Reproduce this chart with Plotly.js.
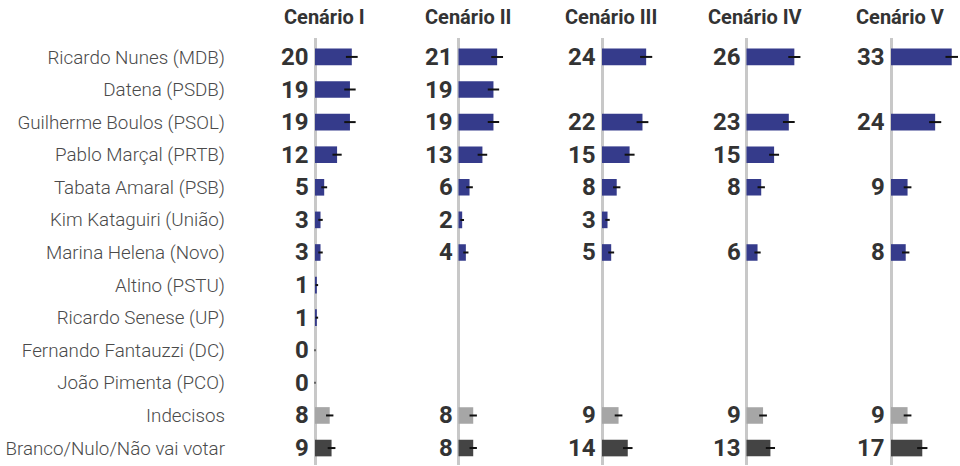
<!DOCTYPE html>
<html>
<head>
<meta charset="utf-8">
<script src="https://cdn.plot.ly/plotly-3.0.1.min.js"></script>
<style>
  html, body { margin: 0; padding: 0; background: #fff; }
  #chart { width: 960px; height: 466px; }
</style>
</head>
<body>
<div id="chart"></div>
<script>
(function () {
    'use strict';

    var categories = [
        'Ricardo Nunes (MDB)', 'Datena (PSDB)', 'Guilherme Boulos (PSOL)', 'Pablo Marçal (PRTB)',
        'Tabata Amaral (PSB)', 'Kim Kataguiri (União)', 'Marina Helena (Novo)', 'Altino (PSTU)',
        'Ricardo Senese (UP)', 'Fernando Fantauzzi (DC)', 'João Pimenta (PCO)', 'Indecisos',
        'Branco/Nulo/Não vai votar'
    ];

    var scenarios = ['Cenário I', 'Cenário II', 'Cenário III', 'Cenário IV', 'Cenário V'];

    var cenario1 = [20, 19, 19, 12, 5, 3, 3, 1, 1, 0, 0, 8, 9];
    var cenario2 = [21, 19, 19, 13, 6, 2, 4, null, null, null, null, 8, 8];
    var cenario3 = [24, null, 22, 15, 8, 3, 5, null, null, null, null, 9, 14];
    var cenario4 = [26, null, 23, 15, 8, null, 6, null, null, null, null, 9, 13];
    var cenario5 = [33, null, 24, null, 9, null, 8, null, null, null, null, 9, 17];

    // margem de erro (pontos percentuais)
    var erro1 = [3.2, 3.1, 3.1, 2.5, 1.6, 1.2, 1.2, 0.7, 0.7, 0.3, 0.3, 2.0, 2.1];
    var erro2 = [3.2, 3.1, 3.1, 2.6, 1.8, 1.0, 1.4, null, null, null, null, 2.0, 2.0];
    var erro3 = [3.3, null, 3.2, 2.7, 2.0, 1.2, 1.6, null, null, null, null, 2.1, 2.6];
    var erro4 = [3.3, null, 3.2, 2.7, 2.0, null, 1.7, null, null, null, null, 2.1, 2.5];
    var erro5 = [3.4, null, 3.3, null, 2.1, null, 2.0, null, null, null, null, 2.1, 2.8];

    var barColors = [
        '#353b8b', '#353b8b', '#353b8b', '#353b8b', '#353b8b', '#353b8b', '#353b8b',
        '#353b8b', '#353b8b', '#353b8b', '#353b8b', '#a6a6a6', '#444444'
    ];

    var values = [cenario1, cenario2, cenario3, cenario4, cenario5];
    var errors = [erro1, erro2, erro3, erro4, erro5];

    var W = 960;
    var zeros = [315, 458.5, 602, 746.5, 891];
    var pxPerUnit = 1.84;

    var data = [];
    var layout = {
        width: 960,
        height: 466,
        margin: { l: 0, r: 0, t: 38, b: 1, pad: 0 },
        paper_bgcolor: '#ffffff',
        plot_bgcolor: 'rgba(0,0,0,0)',
        showlegend: false,
        bargap: 0.49,
        font: { family: 'Roboto, "Open Sans", sans-serif', color: '#333333' },
        yaxis: {
            type: 'category',
            categoryorder: 'array',
            categoryarray: categories,
            range: [12.52, -0.58],
            showgrid: false,
            zeroline: false,
            showline: false,
            ticks: '',
            fixedrange: true,
            tickfont: { family: 'Roboto', size: 18.8, color: '#4a4a4a', weight: 300 }
        },
        annotations: []
    };

    scenarios.forEach(function (name, i) {
        var xa = i === 0 ? 'x' : 'x' + (i + 1);
        var axKey = i === 0 ? 'xaxis' : 'xaxis' + (i + 1);
        var left = i === 0 ? 226 : zeros[i] - 62;
        var right = i === scenarios.length - 1 ? W : zeros[i] + 80;

        layout[axKey] = {
            domain: [left / W, right / W],
            range: [-(zeros[i] - left) / pxPerUnit, (right - zeros[i]) / pxPerUnit],
            anchor: 'y',
            showgrid: false,
            showticklabels: false,
            ticks: '',
            showline: false,
            zeroline: true,
            zerolinecolor: '#c8c8c8',
            zerolinewidth: 3,
            fixedrange: true
        };

        data.push({
            type: 'bar',
            orientation: 'h',
            x: values[i],
            y: categories,
            xaxis: xa,
            yaxis: 'y',
            marker: { color: barColors, line: { width: 0 } },
            error_x: {
                type: 'data',
                array: errors[i],
                visible: true,
                color: '#111111',
                thickness: 2,
                width: 0
            },
            hoverinfo: 'x+y'
        });

        // rótulos de valor à esquerda da linha do zero
        values[i].forEach(function (v, k) {
            if (v === null) return;
            layout.annotations.push({
                text: String(v),
                xref: xa,
                yref: 'y',
                x: 0,
                y: categories[k],
                xanchor: 'right',
                yanchor: 'middle',
                xshift: -4,
                showarrow: false,
                font: { family: 'Roboto', size: 24, color: '#333333', weight: 'bold' }
            });
        });

        layout.annotations.push({
            text: name,
            xref: xa,
            yref: 'paper',
            x: 5,
            y: 1,
            yanchor: 'middle',
            yshift: 21,
            showarrow: false,
            font: { family: 'Roboto', size: 20, color: '#333333', weight: 'bold' }
        });
    });

    Plotly.newPlot('chart', data, layout, { displayModeBar: false, staticPlot: true });
})();
</script>
</body>
</html>
